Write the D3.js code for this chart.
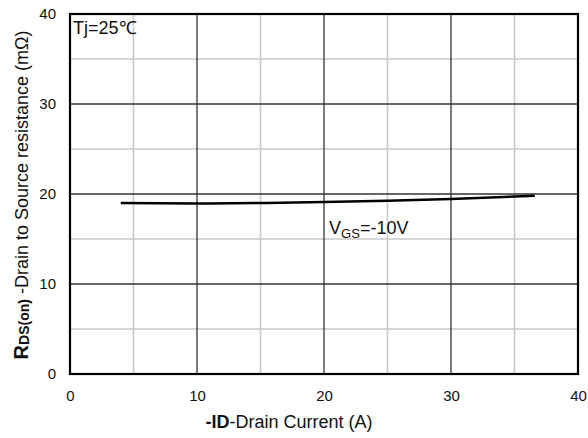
<!DOCTYPE html>
<html>
<head>
<meta charset="utf-8">
<script src="https://cdn.jsdelivr.net/npm/d3@7"></script>
<style>
  body { margin: 0; background: #fff; }
  text { font-family: "Liberation Sans", Arial, sans-serif; fill: #111; }
</style>
</head>
<body>
<div id="chart"></div>
<script>
// drain current (A) vs RDS(on) (mOhm), VGS = -10V
const currentA = [4, 10, 15, 20, 25, 30, 36.6];
const rdsOn = [19.0, 18.95, 19.0, 19.1, 19.25, 19.45, 19.8];
const xTicks = [0, 10, 20, 30, 40];
const yTicks = [0, 10, 20, 30, 40];
const minorTicks = [5, 15, 25, 35];

const W = 588, H = 438;
const margin = {top: 14, right: 10, bottom: 64, left: 70};
const width = W - margin.left - margin.right,
      height = H - margin.top - margin.bottom;

const svg = d3.select("#chart").append("svg")
  .attr("width", W).attr("height", H);
const g = svg.append("g")
  .attr("transform", "translate(" + margin.left + "," + margin.top + ")");

const x = d3.scaleLinear().domain([0, 40]).range([0, width]);
const y = d3.scaleLinear().domain([0, 40]).range([height, 0]);

// minor grid
g.selectAll(".minor-x").data(minorTicks).enter().append("line")
  .attr("x1", d => x(d)).attr("x2", d => x(d))
  .attr("y1", 0).attr("y2", height)
  .attr("stroke", "#c8c8c8").attr("stroke-width", 1.5);
g.selectAll(".minor-y").data(minorTicks).enter().append("line")
  .attr("y1", d => y(d)).attr("y2", d => y(d))
  .attr("x1", 0).attr("x2", width)
  .attr("stroke", "#c8c8c8").attr("stroke-width", 1.5);

// major grid
g.selectAll(".major-x").data(xTicks.slice(1, -1)).enter().append("line")
  .attr("x1", d => x(d)).attr("x2", d => x(d))
  .attr("y1", 0).attr("y2", height)
  .attr("stroke", "#333").attr("stroke-width", 1.3);
g.selectAll(".major-y").data(yTicks.slice(1, -1)).enter().append("line")
  .attr("y1", d => y(d)).attr("y2", d => y(d))
  .attr("x1", 0).attr("x2", width)
  .attr("stroke", "#333").attr("stroke-width", 1.3);

// frame
g.append("rect")
  .attr("width", width).attr("height", height)
  .attr("fill", "none").attr("stroke", "#000").attr("stroke-width", 2.2);

// axes labels via d3 axes (no lines)
const xAxis = g.append("g")
  .attr("transform", "translate(0," + height + ")")
  .call(d3.axisBottom(x).tickValues(xTicks).tickSize(0).tickPadding(16));
const yAxis = g.append("g")
  .call(d3.axisLeft(y).tickValues(yTicks).tickSize(0).tickPadding(14));
[xAxis, yAxis].forEach(a => {
  a.select(".domain").remove();
  a.selectAll("text")
    .style("font-family", "'Liberation Sans', Arial, sans-serif")
    .style("font-size", "15px").attr("fill", "#222");
});

// curve
const line = d3.line()
  .x((d, i) => x(currentA[i]))
  .y(d => y(d))
  .curve(d3.curveMonotoneX);
g.append("path")
  .datum(rdsOn)
  .attr("d", line)
  .attr("fill", "none").attr("stroke", "#000").attr("stroke-width", 2.5);

// annotations
g.append("text")
  .attr("x", 3).attr("y", 20)
  .style("font-size", "18px")
  .text("Tj=25℃");

const vgs = g.append("text")
  .attr("x", x(20.4)).attr("y", y(15.55))
  .style("font-size", "18px");
vgs.append("tspan").text("V");
vgs.append("tspan").attr("dy", 4).style("font-size", "13px").text("GS");
vgs.append("tspan").attr("dy", -4).text("=-10V");

// x title
const xt = svg.append("text")
  .attr("x", 289).attr("y", 428)
  .attr("text-anchor", "middle")
  .style("font-size", "18px");
xt.append("tspan").style("font-weight", "bold").text("-ID");
xt.append("tspan").text("-Drain Current  (A)");

// y title
const yt = svg.append("text")
  .attr("transform", "translate(28," + 195 + ") rotate(-90)")
  .attr("text-anchor", "middle")
  .style("font-size", "18px");
yt.append("tspan").style("font-weight", "bold").style("font-size", "20px").text("R");
yt.append("tspan").style("font-weight", "bold").style("font-size", "14px").attr("dy", 1).text("DS(on)");
yt.append("tspan").attr("dy", -1).text(" -Drain to Source resistance (mΩ)");
</script>
</body>
</html>
